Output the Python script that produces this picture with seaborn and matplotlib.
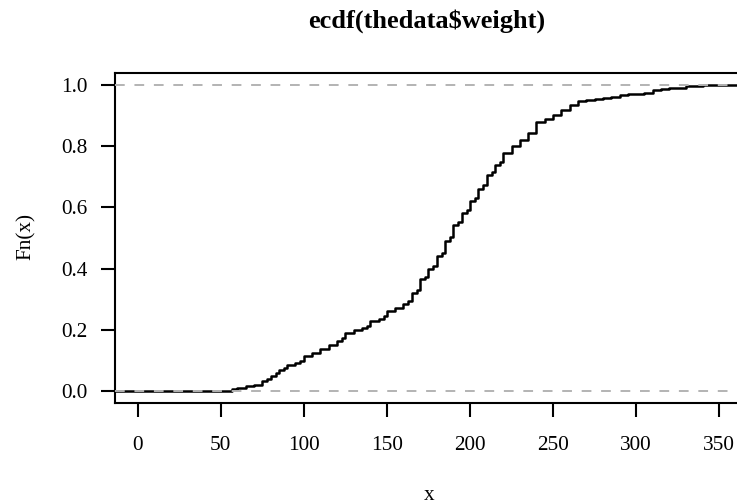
import numpy as np
import pandas as pd
import matplotlib
matplotlib.use("Agg")
import matplotlib.pyplot as plt
import seaborn as sns

weights = [57, 60, 65, 70, 75, 78, 80, 83, 85, 88, 90, 95, 98, 100, 105, 110, 115, 120,
           123, 125, 130, 135, 138, 140, 145, 148, 150, 155, 160, 163, 165, 168, 170,
           173, 175, 178, 180, 183, 185, 188, 190, 193, 195, 198, 200, 203, 205, 208,
           210, 213, 215, 218, 220, 225, 230, 235, 240, 245, 250, 255, 260, 265, 270,
           275, 280, 285, 290, 295, 300, 305, 310, 315, 320, 325, 330, 340]
counts = [2, 2, 2, 2, 5, 3, 4, 3, 4, 3, 4, 2, 3, 6, 5, 5, 5, 5,
          4, 7, 4, 2, 3, 6, 3, 4, 6, 4, 5, 4, 11, 4, 14,
          3, 10, 4, 13, 5, 15, 5, 16, 4, 12, 4, 11, 4, 12, 5,
          14, 3, 10, 4, 11, 9, 8, 9, 15, 4, 5, 7, 6, 5, 2,
          1, 1, 2, 2, 1, 1, 1, 4, 1, 1, 1, 2, 1]

x_ticks = [0, 50, 100, 150, 200, 250, 300, 350]
y_ticks = [0.0, 0.2, 0.4, 0.6, 0.8, 1.0]
y_tick_labels = ["0.0", "0.2", "0.4", "0.6", "0.8", "1.0"]
title = "ecdf(thedata$weight)"

df = pd.DataFrame({"weight": np.repeat(weights, counts)})

sns.set_style("white")
plt.rcParams["font.family"] = ["Liberation Serif", "DejaVu Serif"]
plt.rcParams["text.color"] = "black"

fig = plt.figure(figsize=(7.37, 5.04), dpi=100)
W, H = 737, 504
left, right, top, bottom = 115, 740, 73, 403
ax = fig.add_axes([left / W, 1 - bottom / H, (right - left) / W, (bottom - top) / H])

xlim = (-13.6, 362.5)
ylim = (-0.04, 1.04)

sns.ecdfplot(data=df, x="weight", ax=ax, color="black", linewidth=1.8)
wmin, wmax = df["weight"].min(), df["weight"].max()
ax.hlines(0, xlim[0], wmin, color="black", linewidth=1.8)
ax.hlines(1, wmax, xlim[1], color="black", linewidth=1.8)
for yv in (0, 1):
    ax.axhline(yv, color="#B3B3B3", linewidth=1.4, linestyle=(0, (5, 5)), zorder=5)

ax.set_xlim(*xlim)
ax.set_ylim(*ylim)
ax.set_xticks(x_ticks)
ax.set_xticklabels([str(t) for t in x_ticks])
ax.set_yticks(y_ticks)
ax.set_yticklabels(y_tick_labels)
ax.tick_params(axis="both", which="major", bottom=True, left=True, direction="out",
               length=10, width=1.5, color="black", labelsize=15.3, labelcolor="black")
ax.tick_params(axis="x", pad=14)
ax.tick_params(axis="y", pad=10)
for s in ax.spines.values():
    s.set_color("black")
    s.set_linewidth(1.5)
ax.set_xlabel("")
ax.set_ylabel("")

fig.text(429 / W, 1 - 496 / H, "x", ha="center", va="center", fontsize=15.3, color="black")
fig.text(26 / W, 1 - 237 / H, "Fn(x)", ha="center", va="center", rotation=90,
         fontsize=15.3, color="black")
fig.text(427 / W, 1 - 21 / H, title, ha="center", va="center", fontsize=19,
         fontweight="bold", color="black")

fig.savefig("out.png", dpi=100, facecolor="white")
